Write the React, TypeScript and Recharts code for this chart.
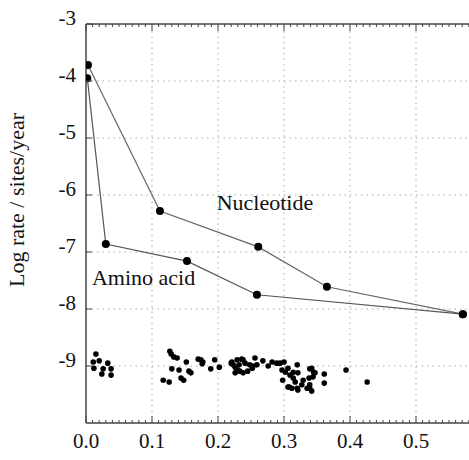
import { ComposedChart, Line, ReferenceLine, Scatter, XAxis, YAxis } from "recharts";

const FONT = "'Liberation Serif', 'Times New Roman', Times, serif";

const nucleotide = [
  { x: 0.003, y: -3.72 },
  { x: 0.112, y: -6.28 },
  { x: 0.261, y: -6.91 },
  { x: 0.365, y: -7.61 },
  { x: 0.571, y: -8.09 },
];

const aminoAcid = [
  { x: 0.002, y: -3.95 },
  { x: 0.03, y: -6.86 },
  { x: 0.153, y: -7.16 },
  { x: 0.259, y: -7.75 },
  { x: 0.571, y: -8.09 },
];

const scatterPts = [
  { x: 0.015, y: -8.79 }, { x: 0.011, y: -8.93 }, { x: 0.02, y: -8.91 }, { x: 0.033, y: -8.95 },
  { x: 0.012, y: -9.04 }, { x: 0.026, y: -9.05 }, { x: 0.038, y: -9.05 }, { x: 0.024, y: -9.14 },
  { x: 0.038, y: -9.16 }, { x: 0.117, y: -9.25 }, { x: 0.126, y: -9.28 }, { x: 0.127, y: -8.74 },
  { x: 0.129, y: -8.79 }, { x: 0.133, y: -8.84 }, { x: 0.138, y: -8.86 }, { x: 0.152, y: -8.93 },
  { x: 0.13, y: -9.05 }, { x: 0.141, y: -9.07 }, { x: 0.156, y: -9.09 }, { x: 0.159, y: -9.12 },
  { x: 0.144, y: -9.21 }, { x: 0.148, y: -9.25 }, { x: 0.17, y: -8.88 }, { x: 0.174, y: -8.89 },
  { x: 0.177, y: -8.93 }, { x: 0.176, y: -8.96 }, { x: 0.195, y: -8.89 }, { x: 0.189, y: -9.05 },
  { x: 0.202, y: -9.02 }, { x: 0.22, y: -8.95 }, { x: 0.223, y: -8.98 }, { x: 0.229, y: -8.89 },
  { x: 0.226, y: -9.12 }, { x: 0.23, y: -9.07 }, { x: 0.236, y: -8.88 }, { x: 0.232, y: -8.98 },
  { x: 0.241, y: -8.95 }, { x: 0.248, y: -8.98 }, { x: 0.233, y: -9.09 }, { x: 0.238, y: -9.12 },
  { x: 0.245, y: -9.09 }, { x: 0.252, y: -9.04 }, { x: 0.256, y: -8.86 }, { x: 0.259, y: -8.98 },
  { x: 0.268, y: -8.91 }, { x: 0.276, y: -9.0 }, { x: 0.282, y: -8.93 }, { x: 0.289, y: -8.95 },
  { x: 0.294, y: -8.95 }, { x: 0.3, y: -8.93 }, { x: 0.297, y: -9.07 }, { x: 0.302, y: -9.11 },
  { x: 0.306, y: -9.04 }, { x: 0.309, y: -9.16 }, { x: 0.32, y: -8.98 }, { x: 0.314, y: -9.21 },
  { x: 0.321, y: -9.12 }, { x: 0.298, y: -9.25 }, { x: 0.306, y: -9.37 }, { x: 0.312, y: -9.39 },
  { x: 0.32, y: -9.39 }, { x: 0.327, y: -9.33 }, { x: 0.329, y: -9.25 }, { x: 0.335, y: -9.39 },
  { x: 0.339, y: -9.33 }, { x: 0.344, y: -9.19 }, { x: 0.342, y: -9.04 }, { x: 0.339, y: -9.05 },
  { x: 0.345, y: -9.11 }, { x: 0.338, y: -9.21 }, { x: 0.361, y: -9.14 }, { x: 0.361, y: -9.3 },
  { x: 0.394, y: -9.07 }, { x: 0.426, y: -9.28 }, { x: 0.339, y: -9.39 }, { x: 0.342, y: -9.44 },
  { x: 0.321, y: -9.42 }, { x: 0.308, y: -9.37 }, { x: 0.317, y: -9.28 }, { x: 0.314, y: -9.11 },
  { x: 0.253, y: -9.0 }, { x: 0.226, y: -9.02 }, { x: 0.221, y: -8.93 }, { x: 0.238, y: -8.89 },
  { x: 0.347, y: -9.12 },
];

const annotations = [
  { x: 0.198, y: -6.26, label: "Nucleotide" },
  { x: 0.009, y: -7.58, label: "Amino acid" },
];

// 0.00 .. 0.60 every 0.01 (minor ticks); labels only on the tenths
const xTicks = Array.from({ length: 61 }, (_, i) => i / 100);
const yTicks = [-9, -8, -7, -6, -5, -4, -3];
const gridX = [0.1, 0.2, 0.3, 0.4, 0.5];
const gridY = [-9, -8, -7, -6, -5, -4];

const AXIS = "#444";
const textStyle = { fontFamily: FONT, fontSize: 21, fill: "#111" };

const isMajor = (v: number) => Math.abs(v * 10 - Math.round(v * 10)) < 1e-6;

function BottomTick(props: any) {
  const { x, y, payload } = props;
  const v = payload.value as number;
  const major = isMajor(v);
  return (
    <g>
      <line x1={x} x2={x} y1={y} y2={y - (major ? 7 : 3)} stroke={AXIS} strokeWidth={1} />
      {major && (
        <text x={x} y={y + 25} textAnchor="middle" style={textStyle}>
          {v.toFixed(1)}
        </text>
      )}
    </g>
  );
}

function TopTick(props: any) {
  const { x, y, payload } = props;
  const major = isMajor(payload.value);
  return <line x1={x} x2={x} y1={y} y2={y + (major ? 7 : 3)} stroke={AXIS} strokeWidth={1} />;
}

function LeftTick(props: any) {
  const { x, y, payload } = props;
  return (
    <g>
      <line x1={x} x2={x + 6} y1={y} y2={y} stroke={AXIS} strokeWidth={1} />
      <text x={x - 10} y={y + 1} textAnchor="end" style={textStyle}>
        {payload.value}
      </text>
    </g>
  );
}

export default function App() {
  return (
    <div style={{ position: "absolute", left: 0, top: 0, width: 469, height: 460, overflow: "hidden", background: "#fff" }}>
      <ComposedChart width={500} height={460} margin={{ top: 0, right: 18, bottom: 0, left: 0 }}>
        <XAxis
          dataKey="x"
          type="number"
          domain={[0, 0.6]}
          ticks={xTicks}
          interval={0}
          tickSize={0}
          tickMargin={0}
          tickLine={false}
          tick={<BottomTick />}
          height={37}
          axisLine={{ stroke: AXIS, strokeWidth: 1.5 }}
          allowDataOverflow
        />
        <XAxis
          xAxisId="top"
          orientation="top"
          dataKey="x"
          type="number"
          domain={[0, 0.6]}
          ticks={xTicks}
          interval={0}
          tickSize={0}
          tickMargin={0}
          tickLine={false}
          tick={<TopTick />}
          height={24}
          axisLine={{ stroke: AXIS, strokeWidth: 1.5 }}
          allowDataOverflow
        />
        <YAxis
          dataKey="y"
          type="number"
          domain={[-10, -3]}
          ticks={yTicks}
          interval={0}
          tickSize={0}
          tickMargin={0}
          tickLine={false}
          tick={<LeftTick />}
          width={86}
          axisLine={{ stroke: AXIS, strokeWidth: 1.5 }}
          allowDataOverflow
          label={{
            content: () => (
              <text
                x={24}
                y={200}
                transform="rotate(-90 24 200)"
                textAnchor="middle"
                style={{ fontFamily: FONT, fontSize: 22, fill: "#111" }}
              >
                Log rate / sites/year
              </text>
            ),
          }}
        />
        {gridX.map((v) => (
          <ReferenceLine key={`gx${v}`} x={v} stroke="#aaa" strokeDasharray="1.5 4" />
        ))}
        {gridY.map((v) => (
          <ReferenceLine key={`gy${v}`} y={v} stroke="#aaa" strokeDasharray="1.5 4" />
        ))}
        <Line
          data={nucleotide}
          dataKey="y"
          type="linear"
          stroke="#666"
          strokeWidth={1.2}
          dot={{ r: 4, fill: "#000", stroke: "none" }}
          isAnimationActive={false}
        />
        <Line
          data={aminoAcid}
          dataKey="y"
          type="linear"
          stroke="#555"
          strokeWidth={1.2}
          dot={{ r: 4, fill: "#000", stroke: "none" }}
          isAnimationActive={false}
        />
        <Scatter
          data={scatterPts}
          dataKey="y"
          fill="#000"
          shape={(p: any) => <circle cx={p.cx} cy={p.cy} r={2.8} fill="#000" />}
          isAnimationActive={false}
        />
        <Scatter
          data={annotations}
          dataKey="y"
          shape={(p: any) => (
            <text x={p.cx} y={p.cy} style={{ fontFamily: FONT, fontSize: 22, fill: "#111" }}>
              {p.payload?.label ?? p.label}
            </text>
          )}
          isAnimationActive={false}
        />
      </ComposedChart>
    </div>
  );
}
